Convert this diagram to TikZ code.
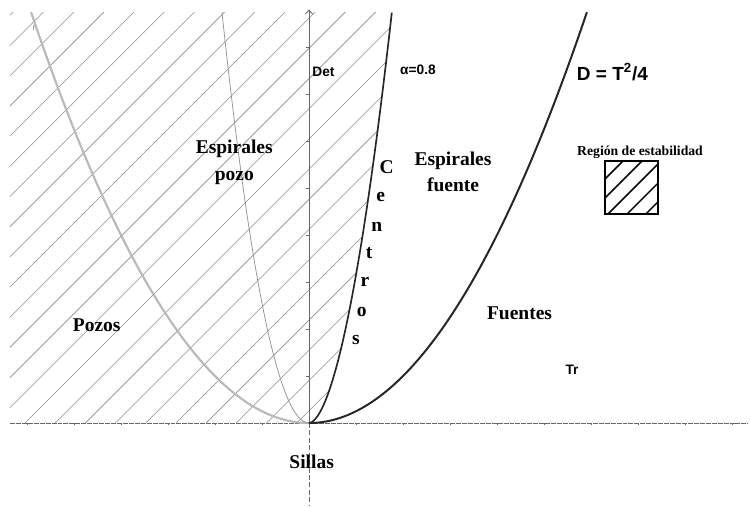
\documentclass[tikz,border=0pt]{standalone}
\usepackage{fontspec}
\setmainfont{Liberation Serif}
\setsansfont{Liberation Sans}
\usetikzlibrary{arrows.meta}

\begin{document}
\begin{tikzpicture}[x=1cm, y=1cm, every node/.style={inner sep=0pt},
    region/.style={font=\fontsize{11.8}{16}\selectfont\bfseries, align=center},
    tag/.style={font=\fontsize{8.3}{9}\selectfont\sffamily\bfseries},
    letter/.style={font=\fontsize{11.8}{13}\selectfont\bfseries},
    hatchline/.style={gray!90, line width=0.35pt},
    axis/.style={black!60, line width=0.5pt}]
    \useasboundingbox (-6.574,-1.766) rectangle (9.383,9.0);
    % hatched zone left of the alpha curve
    \begin{scope}
        \clip (-6.362,0) -- (-6.362,8.74) -- (1.763,8.74)
            -- plot[domain=1.763:0.001, samples=60] (\x,{3.15*\x^1.8}) -- (0,0) -- cycle;
        \foreach \k in {-14,...,9}
            \draw[hatchline] ({-6.043+0.6423*\k},0) -- ++(10,10);
    \end{scope}
    % axes
    \coordinate (O) at (0,0);
    \coordinate (xl) at (-6.362,0);
    \coordinate (xr) at (9.34,0);
    \coordinate (yb) at (0,-1.766);
    \coordinate (yt) at (0,8.8);
    \draw[axis, dash pattern=on 3pt off 0.6pt] (xl) -- (xr);
    \draw[axis, -{Straight Barb[length=2.5pt,width=4.5pt]}] (O) -- (yt);
    \draw[axis, dash pattern=on 3pt off 1.5pt] (O) -- (yb);
    \foreach \t in {-6,...,-1,1,2,...,9}
        \draw[axis] (\t,0) -- (\t,-0.05);
    \foreach \d in {1,...,8}
        \draw[axis] (0,\d) -- (-0.06,\d);
    % curves
    \draw[gray!55, line width=1.3pt] plot[domain=-5.913:0, samples=80] (\x,{\x*\x/4});
    \draw[gray!85, line width=0.45pt] plot[domain=-1.851:0, samples=60] (\x,{2.55*\x*\x});
    \draw[black!85, line width=1.2pt] plot[domain=0:5.913, samples=80] (\x,{\x*\x/4});
    \draw[black!85, line width=1pt] (O) -- plot[domain=0.001:1.763, samples=80] (\x,{3.15*\x^1.8});
    % labels
    \node[font=\fontsize{5}{6}\selectfont\sffamily, gray] (rmark) at (-5.851,8.404) {r};
    \node[tag] (det) at (0.309,7.468) {Det};
    \node[tag] (alpha) at (2.319,7.511) {α=0.8};
    \node[tag] (tr) at (5.596,1.128) {Tr};
    \node[font=\fontsize{11.5}{13}\selectfont\sffamily\bfseries] (eq) at (6.457,7.468) {D = T\textsuperscript{2}/4};
    \node[region] (spoz) at (-1.59,5.55) {Espirales\\pozo};
    \node[region] (sfue) at (3.064,5.34) {Espirales\\fuente};
    \node[region] (pozos) at (-4.517,2.085) {Pozos};
    \node[region] (fuentes) at (4.479,2.334) {Fuentes};
    \node[region] (sillas) at (0.057,-0.836) {Sillas};
    \foreach \ch/\tt/\dd [count=\i] in {C/1.653/5.453, e/1.525/4.815, n/1.44/4.17,
        t/1.277/3.61, r/1.191/3.0, o/1.121/2.368, s/1.0/1.766}
        \node[letter] (cen\i) at (\tt,\dd) {\ch};
    % legend
    \node[font=\fontsize{8.3}{10}\selectfont\bfseries] (legtxt) at (7.043,5.766) {Región de estabilidad};
    \node[draw=black, line width=1pt, minimum size=1.128cm] (leg) at (6.862,5.011) {};
    \begin{scope}
        \clip (leg.south west) rectangle (leg.north east);
        \foreach \c in {-1.106,-1.51,-1.915,-2.32,-2.72}
            \draw[line width=0.9pt] (5,{5+\c}) -- (9,{9+\c});
    \end{scope}
\end{tikzpicture}
\end{document}
